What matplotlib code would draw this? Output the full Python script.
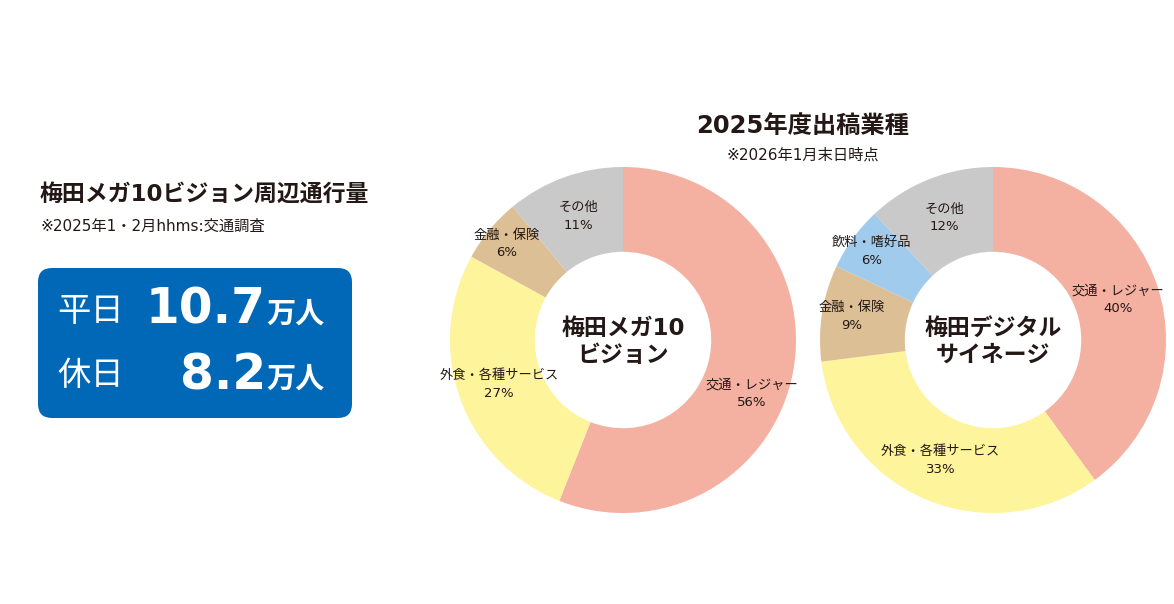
import matplotlib
matplotlib.use("Agg")
import matplotlib.pyplot as plt
import numpy as np
from matplotlib.patches import FancyBboxPatch

plt.rcParams['font.family'] = ['DejaVu Sans', 'Noto Sans CJK JP']

W, H = 1174, 604
INK = "#231815"

# donut data
mega_names = ["交通・レジャー", "外食・各種サービス", "金融・保険", "その他"]
mega_share = [56, 27, 6, 11]
mega_colors = ["#F4B0A1", "#FEF49C", "#DCBF94", "#C9C9CA"]

digi_names = ["交通・レジャー", "外食・各種サービス", "金融・保険", "飲料・嗜好品", "その他"]
digi_share = [40, 33, 9, 6, 12]
digi_colors = ["#F4B0A1", "#FEF49C", "#DCBF94", "#A0CBEC", "#C9C9CA"]

# traffic figures (万人)
day_labels = ["平日", "休日"]
day_traffic = [10.7, 8.2]

fig = plt.figure(figsize=(W / 100, H / 100), dpi=100)
bg = fig.add_axes([0, 0, 1, 1])
bg.set_xlim(0, W)
bg.set_ylim(H, 0)
bg.axis("off")


def donut(cx, cy, R, names, shares, colors, center_text, nudge=None):
    nudge = nudge or {}
    ax = fig.add_axes([(cx - R) / W, (H - cy - R) / H, 2 * R / W, 2 * R / H])
    wedges, _ = ax.pie(shares, colors=colors, startangle=90, counterclock=False,
                       wedgeprops=dict(width=0.49, linewidth=0))
    for w, name, v in zip(wedges, names, shares):
        mid = np.deg2rad((w.theta1 + w.theta2) / 2)
        r = 0.76 if v >= 10 else 0.87
        dx, dy = nudge.get(name, (0, 0))
        ax.text(r * np.cos(mid) + dx, r * np.sin(mid) + dy, f"{name}\n{v}%",
                ha="center", va="center", fontsize=9.5, color=INK, linespacing=1.45)
    ax.text(0, -0.01, center_text, ha="center", va="center", fontsize=16.5,
            fontweight="bold", color=INK, linespacing=1.25)
    ax.set_xlim(-1, 1)
    ax.set_ylim(-1, 1)
    ax.axis("off")


donut(623, 340, 173, mega_names, mega_share, mega_colors, "梅田メガ10\nビジョン",
      nudge={"交通・レジャー": (0, -0.17)})
donut(993, 340, 173, digi_names, digi_share, digi_colors, "梅田デジタル\nサイネージ",
      nudge={"金融・保険": (0.04, 0)})

# right-hand title
bg.text(803, 126, "2025年度出稿業種", ha="center", va="center", fontsize=17.5,
        fontweight="bold", color=INK)
bg.text(803, 155, "※2026年1月末日時点", ha="center", va="center", fontsize=11, color=INK)

# left panel
bg.text(40, 194, "梅田メガ10ビジョン周辺通行量", ha="left", va="center", fontsize=16.5,
        fontweight="bold", color=INK)
bg.text(40, 226, "※2025年1・2月hhms:交通調査", ha="left", va="center", fontsize=11, color=INK)

box = FancyBboxPatch((38, 268), 314, 150, boxstyle="round,pad=0,rounding_size=14",
                     facecolor="#0068B7", edgecolor="none")
bg.add_patch(box)

for i, (lab, val) in enumerate(zip(day_labels, day_traffic)):
    y = 311 + i * 65
    bg.text(57, y, lab, ha="left", va="center", fontsize=24, color="white")
    bg.text(266, y - 1, f"{val}", ha="right", va="center", fontsize=35,
            fontweight="bold", color="white")
    bg.text(266, y + 4, "万人", ha="left", va="center", fontsize=21,
            fontweight="bold", color="white")

fig.savefig("out.png", dpi=100)
